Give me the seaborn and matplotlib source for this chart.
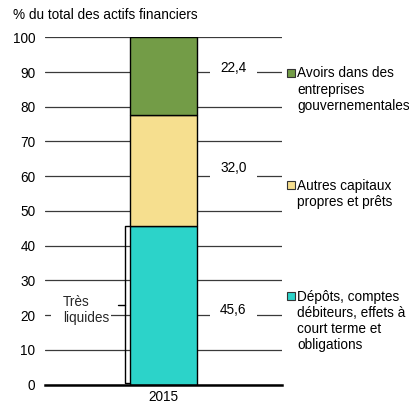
import matplotlib
matplotlib.use("Agg")
import matplotlib.pyplot as plt
import matplotlib.transforms as mtransforms
from matplotlib.path import Path
import seaborn as sns
import pandas as pd

# Composition of financial assets, 2015 (% of total)
years = ["2015"]
categories = [
    "Dépôts, comptes\ndébiteurs, effets à\ncourt terme et\nobligations",
    "Autres capitaux\npropres et prêts",
    "Avoirs dans des\nentreprises\ngouvernementales",
]
shares = [45.6, 32.0, 22.4]
value_labels = ["45,6", "32,0", "22,4"]
colors = ["#2CD3C9", "#F6DF8F", "#739C47"]
yticks = [0, 10, 20, 30, 40, 50, 60, 70, 80, 90, 100]

FS = 9.8

sns.set_theme(style="white")
plt.rcParams["font.family"] = ["Liberation Sans", "DejaVu Sans"]
plt.rcParams["font.size"] = FS


def padded_box(left, right, bottom, top):
    """Rectangular text box with separate paddings (in font-size units)."""
    def style(x0, y0, width, height, mutation_size):
        l = left * mutation_size
        r = right * mutation_size
        b = bottom * mutation_size
        t = top * mutation_size
        xa, xb = x0 - l, x0 + width + r
        ya, yb = y0 - b, y0 + height + t
        return Path([(xa, ya), (xb, ya), (xb, yb), (xa, yb), (xa, ya)],
                    closed=True)
    return style


fig = plt.figure(figsize=(4.10, 4.05), dpi=100)
ax = fig.add_axes([0.1098, 0.0506, 0.5768, 0.8573])

bar_width = 0.284
bottom = 0.0
for cat, val, col in zip(categories, shares, colors):
    df = pd.DataFrame({"year": years, "share": [val]})
    sns.barplot(data=df, x="year", y="share", color=col, width=bar_width,
                bottom=bottom, edgecolor="black", linewidth=1.0,
                saturation=1, ax=ax, zorder=2)
    bottom += val

ax.set_xlim(-0.5, 0.5)
ax.set_ylim(0, 100)
ax.set_yticks(yticks)
ax.set_xlabel("")
ax.set_ylabel("")
ax.set_axisbelow(True)
ax.yaxis.grid(True, color="#3a3a3a", linewidth=0.9)
ax.xaxis.grid(False)
for side in ["left", "right", "top"]:
    ax.spines[side].set_visible(False)
ax.spines["bottom"].set_color("black")
ax.spines["bottom"].set_linewidth(1.8)
ax.tick_params(axis="y", length=0, pad=7, labelsize=FS, colors="black")
ax.tick_params(axis="x", length=0, pad=4, labelsize=FS, colors="black")

# Value labels to the right of the bar
label_y = [21.5, 62.3, 91.3]
for txt, y in zip(value_labels, label_y):
    ax.text(0.297, y, txt, ha="center", va="center",
            fontsize=FS, color="black", zorder=3,
            bbox=dict(boxstyle=padded_box(0.75, 0.75, 0.25, 0.1),
                      fc="white", ec="none"))

# Legend entries, each beside its segment
trans = mtransforms.blended_transform_factory(ax.transAxes, ax.transData)
legend_y = [25.5, 57.5, 89.8]
for cat, col, y in zip(categories, colors, legend_y):
    ax.plot([1.040], [y], marker="s", markersize=5.5, color=col,
            markeredgecolor="#333333", markeredgewidth=0.8,
            transform=trans, clip_on=False, zorder=4)
    ax.text(1.066, y + 1.8, cat, ha="left", va="top", fontsize=FS,
            linespacing=1.2, transform=trans, color="black")

# Bracket marking the very liquid share
left_edge = -bar_width / 2
bx = left_edge - 0.021
liquid = shares[0]
ax.plot([left_edge, bx, bx, left_edge], [liquid, liquid, 0.3, 0.3],
        color="black", linewidth=1.0, zorder=3, clip_on=False)
ax.plot([bx, bx - 0.03], [liquid / 2, liquid / 2], color="black",
        linewidth=1.0, zorder=3)
ax.text(-0.424, 21.5, "Très\nliquides", ha="left", va="center", fontsize=FS,
        linespacing=1.2, zorder=3,
        bbox=dict(boxstyle=padded_box(0.85, 0.1, 0.1, 0.1),
                  fc="white", ec="none"))

fig.text(13 / 410, 1 - 15 / 405, "% du total des actifs financiers",
         ha="left", va="center", fontsize=FS, color="black")

fig.savefig("out.png", dpi=100)
